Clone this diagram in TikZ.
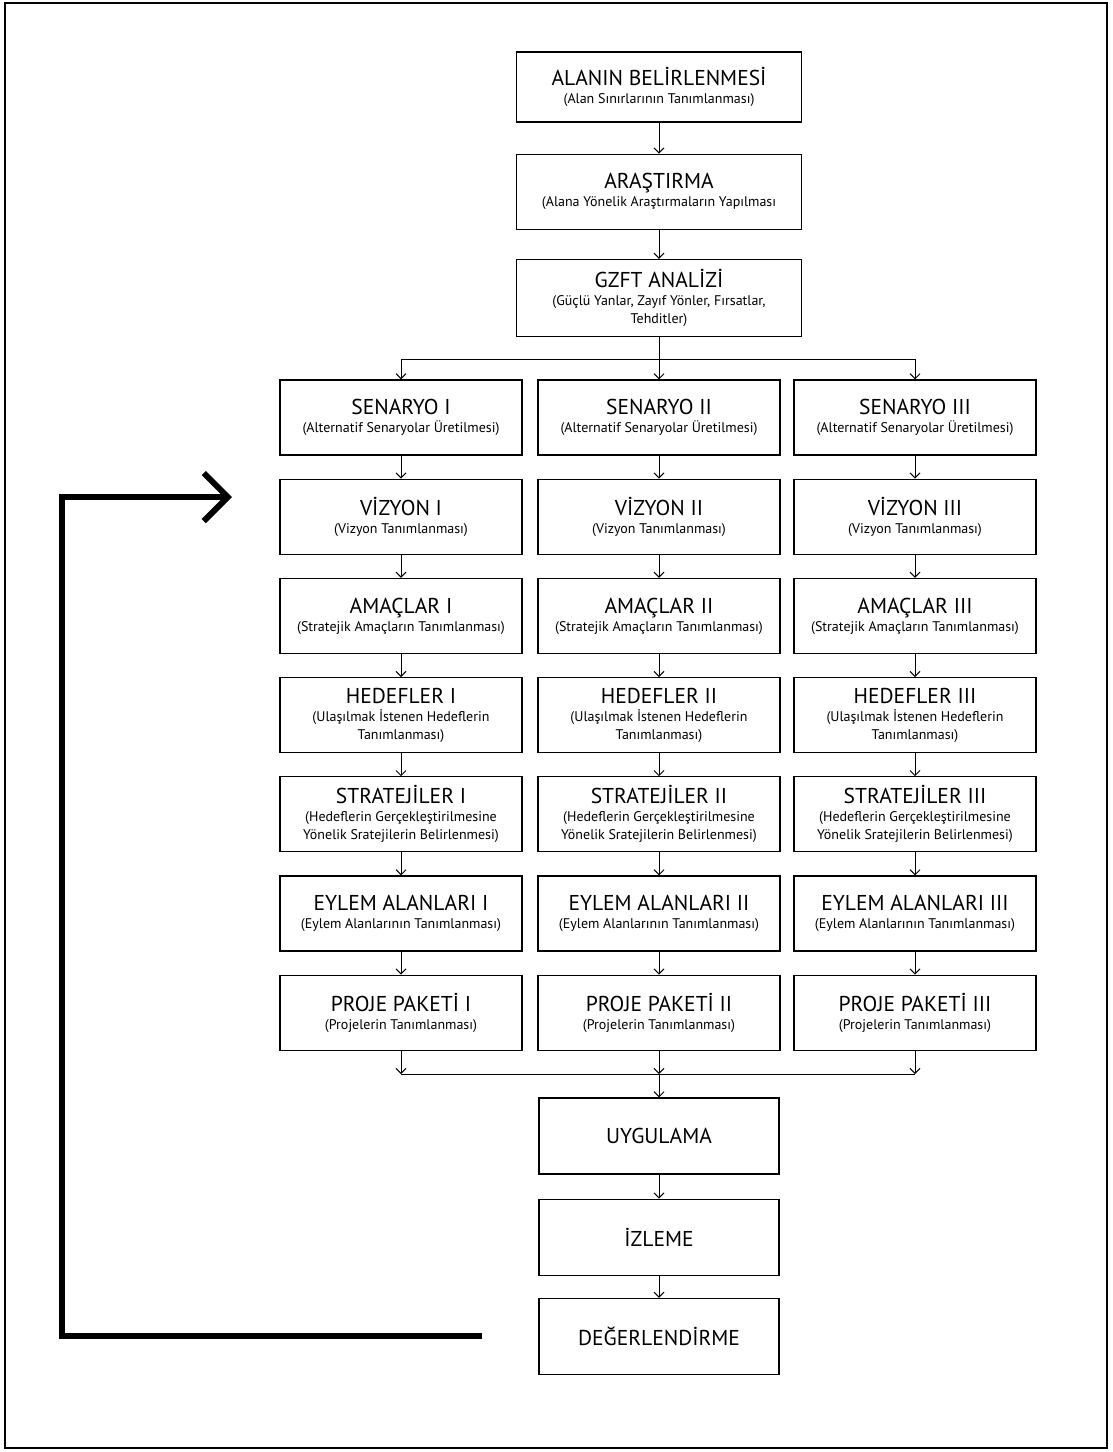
\documentclass[tikz,border=0pt]{standalone}
\usepackage{fontspec}
\setmainfont{PT Sans}
\usepackage{tikz}
\usetikzlibrary{arrows, arrows.meta, positioning}

\newcommand{\baslik}[1]{{\fontsize{21.5}{24}\selectfont #1}}

\begin{document}
\begin{tikzpicture}[x=1pt, y=-1pt, node distance=23pt,
  every node/.style={align=center, font=\fontsize{14}{18}\selectfont},
  kutu/.style={draw, rectangle, line width=1.2pt, minimum width=242pt, minimum height=75pt, inner sep=2pt},
  ok/.style={line width=1pt, -{Straight Barb[length=5pt, width=10pt]}}]
    \useasboundingbox (0,0) rectangle (1113,1452);
    \draw[line width=2pt] (5,3) rectangle (1107,1448);

    % ortak adimlar
    \node (alan) [kutu, minimum width=285pt, minimum height=70pt] at (659,87) {\baslik{ALANIN BELİRLENMESİ}\\(Alan Sınırlarının Tanımlanması)};
    \node (arastirma) [kutu, minimum width=285pt, below=31pt of alan] {\baslik{ARAŞTIRMA}\\(Alana Yönelik Araştırmaların Yapılması};
    \node (gzft) [kutu, minimum width=285pt, minimum height=77pt, below=29pt of arastirma] {\baslik{GZFT ANALİZİ}\\(Güçlü Yanlar, Zayıf Yönler, Fırsatlar,\\Tehditler)};

    \draw[ok] (alan) -- (arastirma);
    \draw[ok] (arastirma) -- (gzft);

    % senaryo sutunlari
    \foreach \c/\r/\x in {1/I/401, 2/II/659, 3/III/915} {
        \node (sen\c) [kutu] at (\x,417.5) {\baslik{SENARYO \r}\\(Alternatif Senaryolar Üretilmesi)};
        \node (viz\c) [kutu, below=of sen\c] {\baslik{VİZYON \r}\\(Vizyon Tanımlanması)};
        \node (ama\c) [kutu, below=of viz\c] {\baslik{AMAÇLAR \r}\\(Stratejik Amaçların Tanımlanması)};
        \node (hed\c) [kutu, below=of ama\c] {\baslik{HEDEFLER \r}\\(Ulaşılmak İstenen Hedeflerin\\Tanımlanması)};
        \node (str\c) [kutu, below=of hed\c] {\baslik{STRATEJİLER \r}\\(Hedeflerin Gerçekleştirilmesine\\Yönelik Sratejilerin Belirlenmesi)};
        \node (eyl\c) [kutu, below=of str\c] {\baslik{EYLEM ALANLARI \r}\\(Eylem Alanlarının Tanımlanması)};
        \node (pro\c) [kutu, below=of eyl\c] {\baslik{PROJE PAKETİ \r}\\(Projelerin Tanımlanması)};

        \draw[ok] (sen\c) -- (viz\c);
        \draw[ok] (viz\c) -- (ama\c);
        \draw[ok] (ama\c) -- (hed\c);
        \draw[ok] (hed\c) -- (str\c);
        \draw[ok] (str\c) -- (eyl\c);
        \draw[ok] (eyl\c) -- (pro\c);
    }

    \draw[ok] (gzft.south) -- ++(0,22) -| (sen1.north);
    \draw[ok] (gzft.south) -- ++(0,22) -| (sen3.north);
    \draw[ok] (gzft.south) -- (sen2.north);

    % uygulama ve izleme
    \coordinate (birles) at (659,1074);
    \node (uyg) [kutu, minimum width=240pt, minimum height=76pt] at (659,1136) {\baslik{UYGULAMA}};
    \node (izl) [kutu, minimum width=240pt, minimum height=76pt, below=24pt of uyg] {\baslik{İZLEME}};
    \node (deg) [kutu, minimum width=240pt, minimum height=76pt, below=22pt of izl] {\baslik{DEĞERLENDİRME}};

    \draw[ok] (pro1.south) -- (pro1.south |- birles);
    \draw[ok] (pro2.south) -- (pro2.south |- birles);
    \draw[ok] (pro3.south) -- (pro3.south |- birles);
    \draw[line width=1pt] (pro1.south |- birles) -- (pro3.south |- birles);
    \draw[ok] (birles) -- (uyg);
    \draw[ok] (uyg) -- (izl);
    \draw[ok] (izl) -- (deg);

    % geri besleme
    \coordinate (geri) at (482,1336);
    \coordinate (kose) at (62,1336);
    \coordinate (donus) at (232,497);
    \draw[line width=6pt, -{Straight Barb[length=24pt, width=48pt, line width=6pt]}] (geri) -- (kose) |- (donus);
\end{tikzpicture}
\end{document}
